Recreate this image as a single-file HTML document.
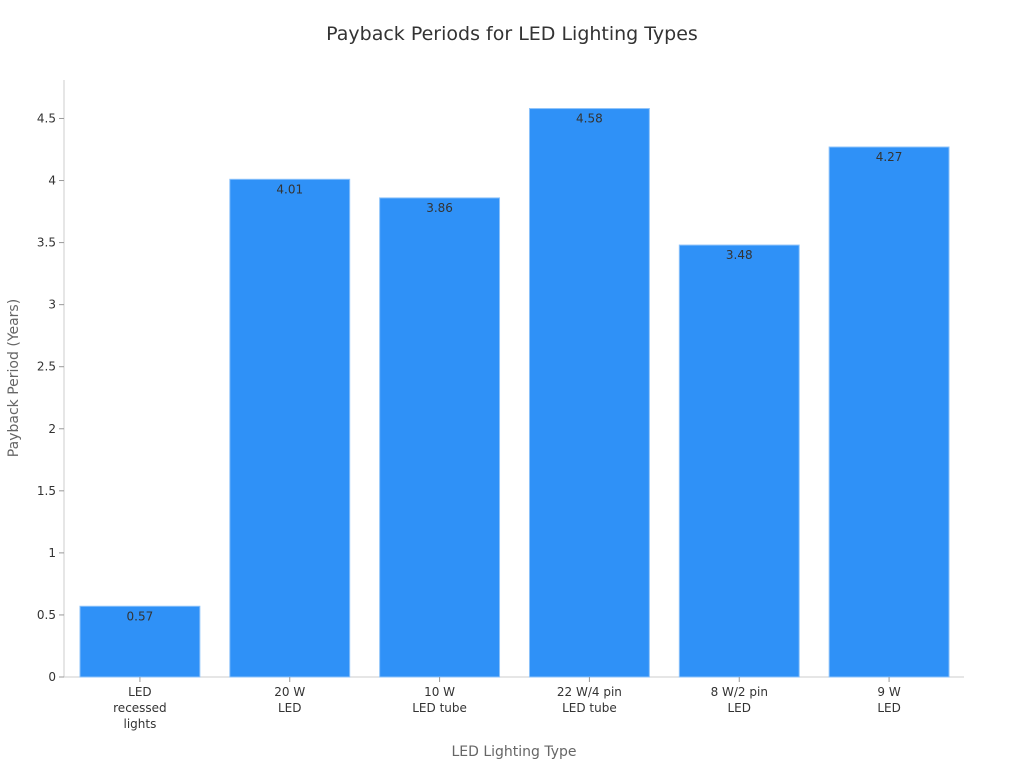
<!DOCTYPE html>
<html><head><meta charset="utf-8"><style>
body{margin:0;background:#fff;}
svg text{font-family:"DejaVu Sans","Liberation Sans",sans-serif;}
</style></head><body>
<svg id="chart" width="1024" height="768" xmlns="http://www.w3.org/2000/svg">
<text x="512" y="40" text-anchor="middle" font-size="19" fill="#333">Payback Periods for LED Lighting Types</text>
<g id="plot"></g>
<text x="514" y="756" text-anchor="middle" font-size="14" fill="#666">LED Lighting Type</text>
<text transform="translate(18,378) rotate(-90)" text-anchor="middle" font-size="14" fill="#666">Payback Period (Years)</text>
</svg>
<script>
const categories=[["LED","recessed","lights"],["20 W","LED"],["10 W","LED tube"],["22 W/4 pin","LED tube"],["8 W/2 pin","LED"],["9 W","LED"]];
const values=[0.57,4.01,3.86,4.58,3.48,4.27];
const yTicks=[0,0.5,1,1.5,2,2.5,3,3.5,4,4.5];
const yTickLabels=["0","0.5","1","1.5","2","2.5","3","3.5","4","4.5"];
const NS="http://www.w3.org/2000/svg";
const g=document.getElementById('plot');
const x0=65,x1=964,yBase=677,yTop=80,yMax=4.81;
const band=(x1-x0)/categories.length;
const y=v=>yBase-(v/yMax)*(yBase-yTop);
const xc=i=>x0+band*(i+0.5);
function mk(t,a){const e=document.createElementNS(NS,t);for(const k in a)e.setAttribute(k,a[k]);g.appendChild(e);return e;}
let e;
e=mk('line',{x1:64,y1:yTop,x2:64,y2:yBase,stroke:'#ccc'});


e=mk('line',{x1:64,y1:yBase,x2:x1,y2:yBase,stroke:'#ccc'});


yTicks.forEach((v,i)=>{
 e=mk('line',{x1:59,x2:64,y1:y(v),y2:y(v),stroke:'#999'});
 
 
 e=mk('text',{x:56,y:y(v)+4,'text-anchor':'end','font-size':12,fill:'#333'});
 e.textContent=yTickLabels[i];
 
 
});
values.forEach((v,i)=>{
 const w=band*0.8;
 e=mk('rect',{x:xc(i)-w/2,y:y(v),width:w,height:yBase-y(v),fill:'#2f91f7',stroke:'#8cc2fa','stroke-width':1});
 
 
 e=mk('text',{x:xc(i),y:y(v)+14,'text-anchor':'middle','font-size':12,fill:'#333'});
 e.textContent=v.toFixed(2);
 
 
 e=mk('line',{x1:xc(i),x2:xc(i),y1:yBase,y2:yBase+5,stroke:'#999'});
 
 
 categories[i].forEach((s,j)=>{
  e=mk('text',{x:xc(i),y:696+j*16,'text-anchor':'middle','font-size':12,fill:'#333'});
  e.textContent=s;
  
  
 });
});
</script>
</body></html>
